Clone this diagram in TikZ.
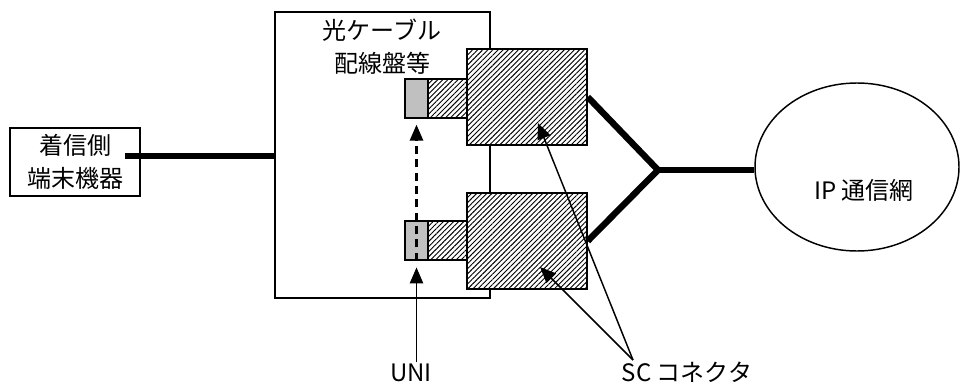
\documentclass[tikz,border=0pt]{standalone}
\usepackage{fontspec}
\setmainfont{Noto Sans CJK JP}
\definecolor{plugray}{RGB}{192, 192, 192}
\usepackage{tikz}
\usetikzlibrary{arrows.meta, positioning, calc, shapes.geometric, patterns.meta}
\tikzset{
    box/.style={draw, rectangle, line width=1.1pt, inner sep=0pt, align=center},
    termbox/.style={box, minimum width=97.5pt, minimum height=51pt, font=\fontsize{18}{25}\selectfont},
    panelbox/.style={box, minimum width=161.25pt, minimum height=214.5pt},
    hatch/.style={box, fill=white, postaction={pattern={Lines[angle=45, distance=2.7pt, line width=0.7pt]}}},
    scbig/.style={hatch, minimum width=90pt, minimum height=72pt},
    scsmall/.style={hatch, minimum width=29.25pt, minimum height=29.25pt},
    uniplug/.style={box, fill=plugray, minimum width=17.25pt, minimum height=29.25pt},
    thickline/.style={line width=4.8pt},
    pointarrow/.style={-{Triangle[length=12pt, width=10pt]}, line width=1.1pt},
    label/.style={font=\fontsize{18}{25}\selectfont, inner sep=1pt, align=center},
}

\begin{document}
\begin{tikzpicture}[x=0.75pt, y=-0.75pt]
    \useasboundingbox (0,0) rectangle (960,385);

    % cable panel
    \node[panelbox] (panel) at (382.5,155) {};
    \node[label] (paneltext) at (382,47) {光ケーブル\\配線盤等};

    % terminal
    \node[termbox] (term) at (75,162) {着信側\\端末機器};
    \coordinate (tline) at (125,156);
    \draw[thickline] (tline) -- (tline -| panel.west);

    % IP network
    \node[draw, ellipse, line width=1.1pt, minimum width=153pt, minimum height=126pt, inner sep=0pt] (ipnet) at (857,167) {};
    \node[label] (iptext) at (864,190) {IP 通信網};

    % SC connectors
    \coordinate (fork) at (658,170);
    \node[scbig] (ubig) at (527,97) {};
    \node[scbig] (lbig) at (527,241) {};
    \draw[thickline, line join=miter] (ubig.east) -- (fork) -- (lbig.east);
    \draw[thickline] (fork) -- (fork -| ipnet.west);
    \node[scsmall] (usmall) at (447.5,98.5) {};
    \node[scsmall] (lsmall) at (447.5,240.5) {};
    \node[uniplug] (ugray) at (416.5,98.5) {};
    \node[uniplug] (lgray) at (416.5,240.5) {};

    % UNI
    \node[label] (uni) at (411,373) {UNI};
    \draw[pointarrow, line width=1.6pt, dash pattern=on 6pt off 4pt, shorten >=4.5pt] (lgray.south) -- (ugray.south);
    \draw[pointarrow, shorten >=5pt] (uni.north -| lgray.south) -- (lgray.south);

    % SC label
    \node[label] (sc) at (687,372) {SC コネクタ};
    \coordinate (sctip) at (633,360);
    \draw[pointarrow] (sctip) -- ([shift={(11,26)}]ubig.center);
    \draw[pointarrow] (sctip) -- ([shift={(13,26)}]lbig.center);
\end{tikzpicture}
\end{document}
